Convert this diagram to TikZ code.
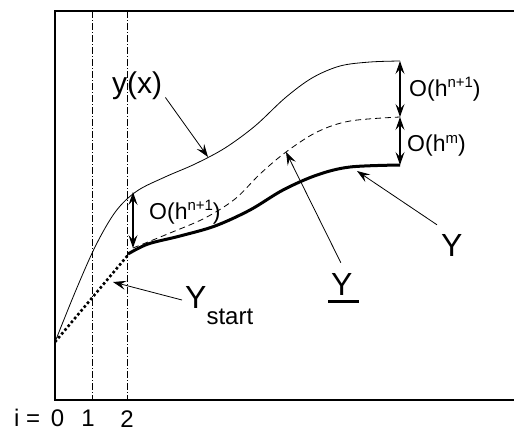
\documentclass[tikz,border=0pt]{standalone}
\usepackage{fontspec}
\setmainfont{Liberation Sans}
\usetikzlibrary{arrows.meta}
\newcommand\mysup[2][9bp]{\raisebox{#1}{\fontsize{15bp}{15bp}\selectfont #2}}
\begin{document}
\begin{tikzpicture}[x=1bp,y=-1bp,
  big/.style={font=\fontsize{32bp}{32bp}\selectfont, inner sep=0pt},
  mid/.style={font=\fontsize{30bp}{30bp}\selectfont, inner sep=0pt},
  small/.style={font=\fontsize{23bp}{23bp}\selectfont, inner sep=0pt},
  idx/.style={font=\fontsize{24bp}{24bp}\selectfont, inner sep=0pt},
  tip/.style={-{Stealth[length=13bp,width=9bp,inset=5bp]}, line width=0.8bp},
  dbl/.style={{Stealth[length=13bp,width=9bp,inset=5bp]}-{Stealth[length=13bp,width=9bp,inset=5bp]}, line width=1.1bp},
  frame/.style={line width=1.2bp},
  grid/.style={line width=0.7bp, dash pattern=on 7bp off 2bp on 1bp off 2bp},
  exact/.style={line width=0.8bp},
  local/.style={line width=0.8bp, dash pattern=on 6bp off 4bp},
  numer/.style={line width=3bp},
  startup/.style={line width=2.6bp, dash pattern=on 2.6bp off 2.4bp}
]
\useasboundingbox (0,0) rectangle (514,431);
% frame
\draw[frame] (514,11) -- (55,11) -- (55,400) -- (514,400);
% grid lines
\draw[grid] (92.5,11) -- (92.5,400);
\draw[grid] (127.5,11) -- (127.5,400);
% exact solution
\draw[exact] plot[smooth, tension=0.55] coordinates {(55,342) (76,290) (96,245) (116,211) (137,191) (165,177) (195,164) (225,148) (255,126) (285,98) (312,78) (340,66) (370,62) (400,61)};
% local solution (dashed)
\draw[local] plot[smooth, tension=0.55] coordinates {(133,248) (170,233) (205,218) (235,199) (260,174) (286,152) (317,132) (350,121) (400,117)};
% numerical solution
\draw[numer] plot[smooth, tension=0.55] coordinates {(128,254) (148,244) (180,236) (215,226) (250,210) (283,190) (317,175) (350,167) (400,165)};
% starting values
\draw[startup] (55,342) -- (128,255);
% coordinates on the curves
\coordinate (a1) at (133,192);
\coordinate (a2) at (133,248);
\coordinate (b1) at (400,61);
\coordinate (b2) at (400,117);
\coordinate (b3) at (400,165);
\coordinate (tyx) at (208,157);
\coordinate (tys) at (113,282);
\coordinate (tyu) at (286,152);
\coordinate (tyr) at (357,171);
% error arrows
\draw[dbl] (a1) -- (a2);
\draw[dbl] (b1) -- (b2);
\draw[dbl] (b2) -- (b3);
% labels
\node[small, anchor=base west] (e1) at (409,96) {O(h\mysup{n+1})};
\node[small, anchor=base west] (e2) at (407,151) {O(h\mysup[8bp]{m})};
\node[small, anchor=base west] (e3) at (149,219) {O(h\mysup{n+1})};
\node[mid, anchor=base west] (yx) at (112,93) {y(x)};
\node[big, anchor=base west] (ys) at (185,308) {Y\raisebox{-16bp}{\fontsize{24bp}{24bp}\selectfont start}};
\node[big, anchor=base west] (yu) at (331,295) {Y};
\node[big, anchor=base west] (yr) at (441,256) {Y};
\draw[line width=3bp] ([xshift=-3bp,yshift=-6.5bp]yu.base west) -- ([xshift=6bp,yshift=-6.5bp]yu.base east);
% pointers
\draw[tip] ([xshift=3bp,yshift=2bp]yx.south east) -- (tyx);
\draw[tip] ([xshift=-3bp,yshift=8bp]ys.base west) -- (tys);
\draw[tip] ([xshift=-1bp,yshift=10bp]yu.north) -- (tyu);
\draw[tip] ([xshift=-4bp,yshift=9bp]yr.north west) -- (tyr);
% index labels
\node[idx, anchor=base west] (ieq) at (14,426) {i =};
\node[idx, anchor=base] (i0) at (57.5,426) {0};
\node[idx, anchor=base] (i1) at (88,426) {1};
\node[idx, anchor=base] (i2) at (127,427) {2};
\end{tikzpicture}
\end{document}
